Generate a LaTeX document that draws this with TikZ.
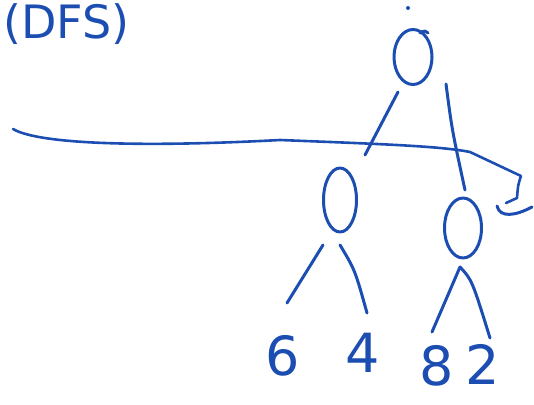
\documentclass[tikz,border=0pt]{standalone}
\usepackage{fontspec}
\setmainfont{DejaVu Sans}
\usetikzlibrary{shapes.geometric}
\definecolor{ink}{RGB}{28,78,178}
\begin{document}
\begin{tikzpicture}[x=1pt,y=-1pt,
  pen/.style={draw=ink,line width=3pt,line cap=round,line join=round},
  vert/.style={pen,ellipse,inner sep=0pt},
  leaf/.style={text=ink,font=\fontsize{54}{54}\selectfont,inner sep=0pt}]
\useasboundingbox (0,0) rectangle (534,404);
% title
\node[text=ink,font=\fontsize{46}{46}\selectfont,anchor=base west,inner sep=0pt] (title) at (3,38) {(DFS)};
% tree nodes
\node[vert,minimum width=38pt,minimum height=55pt] (root) at (413,57) {};
\node[vert,minimum width=33pt,minimum height=64pt] (lc) at (340,200) {};
\node[vert,minimum width=37pt,minimum height=60pt] (rc) at (463,228) {};
\fill[ink] (408,8) circle (2pt);
\draw[pen] (420,33) .. controls (424,30) and (427,31) .. (428,33);
% leaves
\node[leaf] (l6) at (283,356) {6};
\node[leaf] (l4) at (363,353) {4};
\node[leaf] (l8) at (437,366) {8};
\node[leaf] (l2) at (483,364) {2};
% edge endpoints
\coordinate (r1) at (398,92);  \coordinate (r1e) at (365,155);
\coordinate (r2) at (446,84);  \coordinate (r2e) at (465,190);
\coordinate (a1) at (323,245); \coordinate (a1e) at (287,303);
\coordinate (a2) at (340,245); \coordinate (a2e) at (367,313);
\coordinate (b0) at (460,267); \coordinate (b1e) at (432,332);
\coordinate (b2e) at (490,338);
\draw[pen] (r1) -- (r1e);
\draw[pen] (r2) .. controls (452,130) .. (r2e);
\draw[pen] (a1) -- (a1e);
\draw[pen] (a2) .. controls (355,270) .. (a2e);
\draw[pen] (b0) -- (b1e);
\draw[pen] (b0) .. controls (472,280) .. (b2e);
% horizontal cut line with hook
\coordinate (c0) at (13,129);
\coordinate (c1) at (521,176);
\coordinate (c2) at (506,203);
\draw[pen,line width=2.6pt] (c0) .. controls (40,145) and (150,147) .. (280,140)
  .. controls (380,144) and (440,146) .. (470,152)
  -- (c1) .. controls (518,185) .. (517,198) -- (c2);
\coordinate (d0) at (497,206);
\coordinate (d1) at (532,207);
\draw[pen] (d0) .. controls (500,218) and (515,216) .. (d1);
\end{tikzpicture}
\end{document}
